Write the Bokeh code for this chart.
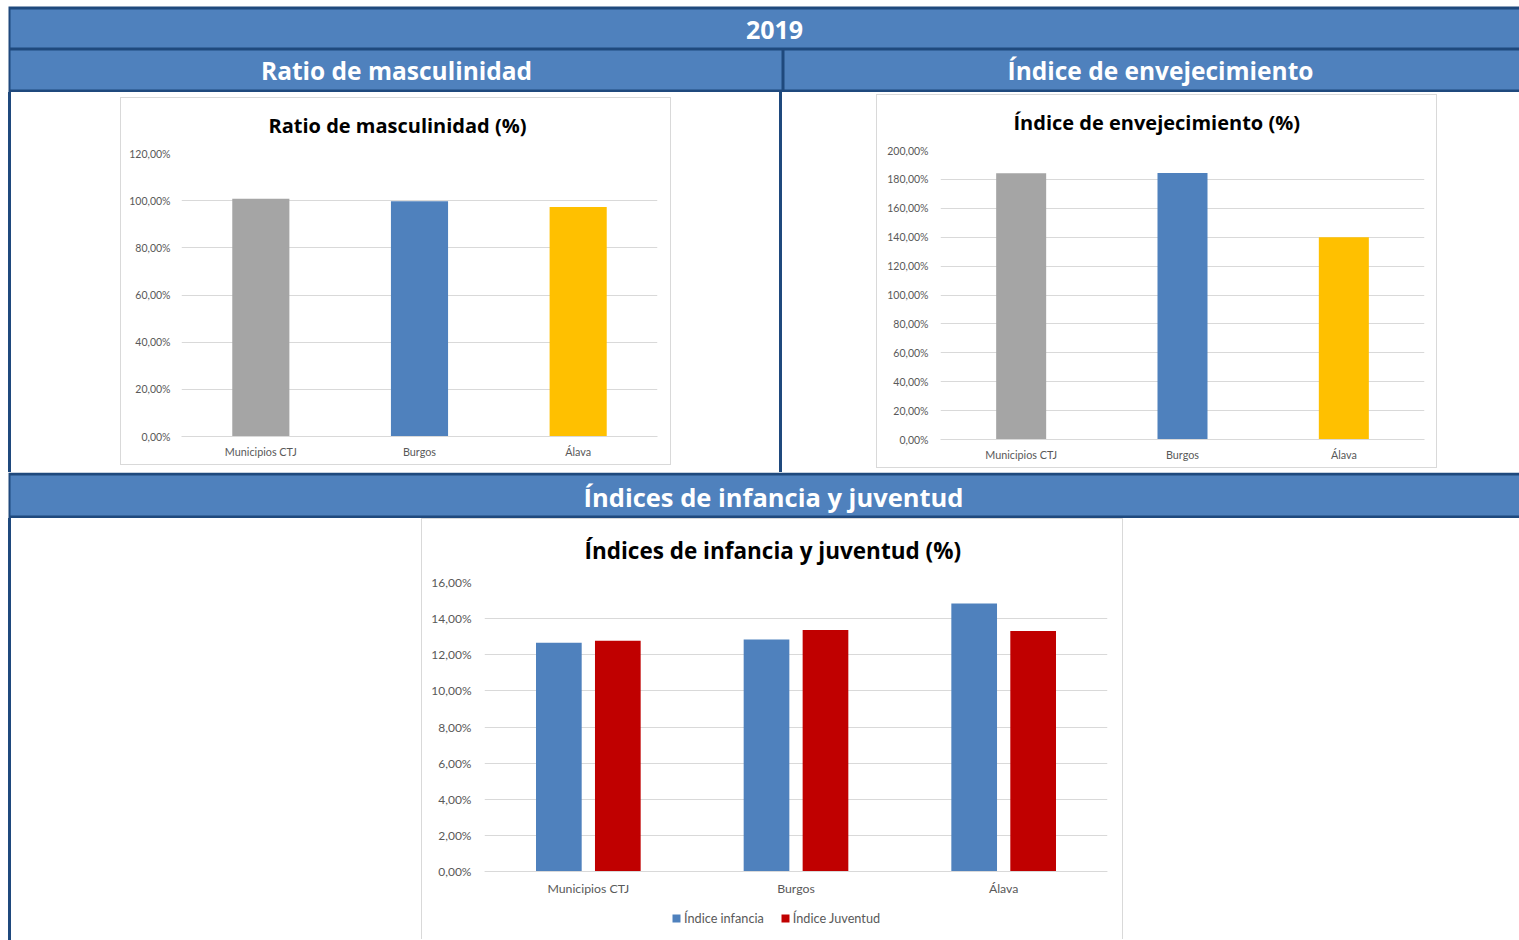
from bokeh.plotting import figure
from bokeh.layouts import row, column
from bokeh.models import (FactorRange, Range1d, FixedTicker, Legend, LegendItem,
                          ColumnDataSource, Spacer)
from bokeh.transform import dodge
from bokeh.core.properties import value
from bokeh.embed import file_html
from bokeh.resources import INLINE

# ---------------- data ----------------
header_year = "2019"
header_left = "Ratio de masculinidad"
header_right = "Índice de envejecimiento"
header_bottom = "Índices de infancia y juventud"

title_masc = "Ratio de masculinidad (%)"
title_env = "Índice de envejecimiento (%)"
title_inf = "Índices de infancia y juventud (%)"

areas = ["Municipios CTJ", "Burgos", "Álava"]
area_colors = ["#A5A5A5", "#4F81BD", "#FFC000"]

masculinidad = [100.8, 99.8, 97.3]
envejecimiento = [184.3, 184.4, 139.9]
infancia = [12.66, 12.84, 14.84]
juventud = [12.77, 13.37, 13.32]
series_names = ["Índice infancia", "Índice Juventud"]
series_colors = ["#4F81BD", "#C00000"]

masc_ticks = [0, 20, 40, 60, 80, 100, 120]
masc_tick_labels = ["0,00%", "20,00%", "40,00%", "60,00%", "80,00%", "100,00%", "120,00%"]
env_ticks = [0, 20, 40, 60, 80, 100, 120, 140, 160, 180, 200]
env_tick_labels = ["0,00%", "20,00%", "40,00%", "60,00%", "80,00%", "100,00%",
                   "120,00%", "140,00%", "160,00%", "180,00%", "200,00%"]
inf_ticks = [0, 2, 4, 6, 8, 10, 12, 14, 16]
inf_tick_labels = ["0,00%", "2,00%", "4,00%", "6,00%", "8,00%", "10,00%",
                   "12,00%", "14,00%", "16,00%"]

# ---------------- style ----------------
DARK = "#1F497D"
BLUE = "#4F81BD"
GRID = "#D9D9D9"
LABEL = "#595959"
FONT = "Lato"
TFONT = "Open Sans"
W = 1519


def header(y0, h, rects, texts):
    """Header band; rects/texts given in page-pixel coordinates."""
    p = figure(width=W, height=h, x_range=Range1d(0, W), y_range=Range1d(0, h),
               x_axis_type=None, y_axis_type=None, toolbar_location=None,
               output_backend="svg", min_border=0)
    p.outline_line_color = None
    p.background_fill_color = "white"
    p.border_fill_color = "white"
    p.quad(left=[r[0] for r in rects], right=[r[2] for r in rects],
           top=[y0 + h - r[1] for r in rects], bottom=[y0 + h - r[3] for r in rects],
           color=[r[4] for r in rects], line_color=None)
    for (tx, ty, txt, size) in texts:
        p.text(x=[tx], y=[y0 + h - ty], text=[txt], text_font=value(TFONT),
               text_font_size=size, text_font_style="bold", text_color="white",
               text_align="center", text_baseline="middle")
    return p


def gap(w, h, color=None):
    if color:
        return Spacer(width=w, height=h, styles={"background-color": color})
    return Spacer(width=w, height=h)


def style_chart(p, ticks, labels, ysize, xsize, ystand, xstand):
    p.outline_line_color = None
    p.xgrid.grid_line_color = None
    p.ygrid.grid_line_color = GRID
    p.ygrid.grid_line_width = 1
    p.yaxis.ticker = FixedTicker(ticks=ticks)
    p.yaxis.major_label_overrides = {t: l for t, l in zip(ticks, labels)}
    p.yaxis.axis_line_color = None
    p.yaxis.major_tick_line_color = None
    p.yaxis.minor_tick_line_color = None
    p.yaxis.major_tick_out = 0
    p.yaxis.major_tick_in = 0
    p.yaxis.major_label_standoff = ystand
    p.yaxis.major_label_text_font = FONT
    p.yaxis.major_label_text_font_size = ysize
    p.yaxis.major_label_text_color = LABEL
    p.xaxis.axis_line_color = GRID
    p.xaxis.major_tick_line_color = None
    p.xaxis.minor_tick_line_color = None
    p.xaxis.major_tick_out = 0
    p.xaxis.major_tick_in = 0
    p.xaxis.major_label_standoff = xstand
    p.xaxis.major_label_text_font = FONT
    p.xaxis.major_label_text_font_size = xsize
    p.xaxis.major_label_text_color = LABEL


def style_title(p, offset, standoff, size):
    p.title.align = "left"
    p.title.vertical_align = "top"
    p.title.offset = offset
    p.title.standoff = standoff
    p.title.text_font = TFONT
    p.title.text_font_style = "bold"
    p.title.text_font_size = size
    p.title.text_color = "#000000"


def simple_bar(vals, ymax, ticks, labels, title, w, h, mb, bar_w, toff, ystand, margin):
    p = figure(x_range=FactorRange(*areas), y_range=Range1d(0, ymax), width=w, height=h,
               title=title, toolbar_location=None, output_backend="svg",
               min_border_left=mb[0], min_border_right=mb[1],
               min_border_top=mb[2], min_border_bottom=mb[3], margin=margin)
    p.styles = {"border": "1px solid " + GRID}
    src = ColumnDataSource(dict(x=areas, top=vals, color=area_colors))
    p.vbar(x="x", top="top", width=bar_w, color="color", line_color=None, source=src)
    style_chart(p, ticks, labels, "10.5px", "10.8px", ystand, 8)
    style_title(p, toff, 25, "20px")
    return p


# ---------------- header rows ----------------
headA = header(0, 92,
               rects=[(8, 6, W, 92, DARK),
                      (10, 9, W, 47, BLUE),
                      (10, 50, 781, 89, BLUE),
                      (784, 50, W, 89, BLUE)],
               texts=[(774, 29, header_year, "25px"),
                      (396, 70, header_left, "24.5px"),
                      (1160, 70, header_right, "24.5px")])

headC = header(472, 46,
               rects=[(8, 472, W, 518, DARK),
                      (10, 475, W, 515, BLUE)],
               texts=[(773, 496, header_bottom, "25.5px")])

# ---------------- middle row ----------------
chart1 = simple_bar(masculinidad, 120, masc_ticks, masc_tick_labels, title_masc,
                    551, 368, (60, 15, 55, 30), 0.36, 87, 11, (5, 0, 5, 0))
chart2 = simple_bar(envejecimiento, 200, env_ticks, env_tick_labels, title_env,
                    561, 374, (63, 14, 55, 30), 0.31, 73, 12, (2, 0, 2, 0))

rowB = row(gap(8, 380), gap(3, 380, DARK), gap(109, 380), chart1,
           gap(108, 380), gap(3, 380, DARK), gap(94, 380), chart2, gap(78, 380),
           spacing=0)

# ---------------- bottom row ----------------
# the category axis is pinned at 0 so the frame can also hold the legend below it
inf_bottom = -69 * 16 / 289
chart3 = figure(x_range=FactorRange(*areas), y_range=Range1d(inf_bottom, 16),
                width=702, height=421, title=title_inf, toolbar_location=None,
                output_backend="svg", min_border_left=62, min_border_right=17,
                min_border_top=63, min_border_bottom=0)
chart3.styles = {"border-top": "1px solid " + GRID, "border-left": "1px solid " + GRID,
                 "border-right": "1px solid " + GRID}
src3 = ColumnDataSource(dict(x=areas, inf=infancia, juv=juventud))
r_inf = chart3.vbar(x=dodge("x", -0.142, range=chart3.x_range), top="inf", bottom=0,
                    width=0.22, color=series_colors[0], line_color=None, source=src3)
r_juv = chart3.vbar(x=dodge("x", 0.142, range=chart3.x_range), top="juv", bottom=0,
                    width=0.22, color=series_colors[1], line_color=None, source=src3)
style_chart(chart3, inf_ticks, inf_tick_labels, "12px", "12.3px", 13, 9)
chart3.xaxis.fixed_location = 0
style_title(chart3, 100, 29, "22.5px")
legend = Legend(items=[LegendItem(label=series_names[0], renderers=[r_inf]),
                       LegendItem(label=series_names[1], renderers=[r_juv])],
                orientation="horizontal", location=(187, 14),
                glyph_width=10, glyph_height=10, label_standoff=3, spacing=16,
                padding=5, margin=0, border_line_color=None, background_fill_alpha=0,
                label_text_font=FONT, label_text_font_size="12.7px",
                label_text_color=LABEL)
chart3.add_layout(legend)

rowD = row(gap(8, 422), gap(3, 422, DARK), gap(410, 422), chart3, gap(394, 422),
           spacing=0)

layout = column(headA, rowB, headC, rowD, spacing=0)

open("out.html", "w").write(file_html(layout, INLINE))
